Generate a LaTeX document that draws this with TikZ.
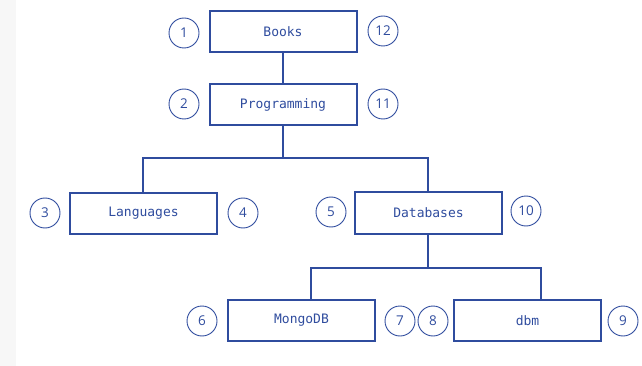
\documentclass[tikz,border=0pt]{standalone}
\usepackage{fontspec}
\setmonofont{DejaVu Sans Mono}
\newfontfamily\numfont{Open Sans}
\definecolor{ink}{HTML}{2F4C9E}
\definecolor{strip}{HTML}{F7F7F7}
\tikzset{
  box/.style={draw=ink, line width=2pt, minimum width=147pt, minimum height=41pt, inner sep=0pt, font=\ttfamily\fontsize{13}{13}\selectfont, text=ink},
  num/.style={draw=ink, line width=0.9pt, circle, minimum size=30pt, inner sep=0pt, font=\numfont\fontsize{13.5}{13.5}\selectfont, text=ink},
  link/.style={draw=ink, line width=2pt}
}
\begin{document}
\begin{tikzpicture}[x=1pt,y=-1pt]
\useasboundingbox (0,0) rectangle (642,366);
\fill[strip] (0,0) rectangle (16,366);
% boxes
\node[box] (books) at (283,31.5) {Books};
\node[box] (prog) at (283,105) {Programming};
\node[box] (lang) at (143.5,213.5) {Languages};
\node[box] (db) at (428.5,213) {Databases};
\node[box] (mongo) at (301.5,320.5) {MongoDB};
\node[box] (dbm) at (527.5,320.5) {dbm};
% numbers
\node[num] (n1) at (184,33) {1};
\node[num] (n12) at (383,31) {12};
\node[num] (n2) at (184,104) {2};
\node[num] (n11) at (383,104) {11};
\node[num] (n3) at (45,213) {3};
\node[num] (n4) at (243,213) {4};
\node[num] (n5) at (331,212) {5};
\node[num] (n10) at (526,211) {10};
\node[num] (n6) at (202,321) {6};
\node[num] (n7) at (400,321) {7};
\node[num] (n8) at (433,321) {8};
\node[num] (n9) at (623,321) {9};
% connectors
\coordinate (j1) at (283,158);
\coordinate (j2) at (428,268);
\draw[link] (books.south) -- (prog.north);
\draw[link] (prog.south) -- (j1);
\draw[link] (lang.north -| 143,0) -- (143,158) -- (428,158) -- (db.north -| 428,0);
\draw[link] (db.south -| 428,0) -- (j2);
\draw[link] (mongo.north -| 311,0) -- (311,268) -- (541,268) -- (dbm.north -| 541,0);
\end{tikzpicture}
\end{document}
